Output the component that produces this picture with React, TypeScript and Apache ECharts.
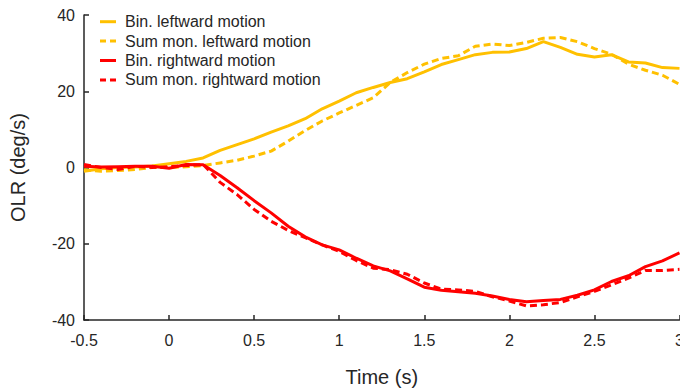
import React, { useEffect, useRef } from "react";
import * as echarts from "echarts";

const time = [-0.5, -0.4, -0.3, -0.2, -0.1, 0, 0.1, 0.2, 0.3, 0.4, 0.5, 0.6, 0.7, 0.8, 0.9, 1.0, 1.1, 1.2, 1.3, 1.4, 1.5, 1.6, 1.7, 1.8, 1.9, 2.0, 2.1, 2.2, 2.3, 2.4, 2.5, 2.6, 2.7, 2.8, 2.9, 3.0];

const binLeft = [-1, -0.3, 0, 0.1, 0.4, 1.0, 1.6, 2.5, 4.5, 6, 7.5, 9.3, 10.9, 12.8, 15.4, 17.4, 19.6, 21, 22.3, 23.3, 25.1, 27, 28.3, 29.6, 30.2, 30.3, 31.2, 33, 31.5, 29.7, 29, 29.6, 27.7, 27.4, 26.2, 26];
const sumLeft = [-0.6, -1, -0.8, -0.5, 0, 0, 0.2, 0.5, 1.2, 1.9, 3, 4.3, 6.9, 9.7, 12.2, 14.3, 16.3, 18.3, 22.3, 24.9, 27.1, 28.6, 29.3, 31.8, 32.4, 32, 32.8, 33.9, 34.1, 33, 31.2, 29.7, 27.1, 25.5, 24.2, 21.8];
const binRight = [0.3, 0.1, 0.2, 0.3, 0.3, -0.2, 0.8, 0.7, -2.1, -5.3, -8.7, -11.9, -15.4, -18.2, -20.3, -21.6, -23.8, -25.8, -27.1, -29.2, -31.4, -32.2, -32.6, -33, -33.7, -34.6, -35.2, -34.9, -34.6, -33.5, -32.1, -29.9, -28.4, -26, -24.5, -22.4];
const sumRight = [0.8, 0, -0.5, 0.3, 0, 0.2, 0.5, 0.8, -3.9, -7.1, -11, -14.1, -16.5, -18.4, -20.3, -22, -24.4, -26.4, -26.8, -28, -30.3, -31.9, -32.1, -32.5, -33.9, -35, -36.3, -36, -35.4, -33.9, -32.5, -30.8, -29, -27, -27, -26.7];

const seriesNames = ["Bin. leftward motion", "Sum mon. leftward motion", "Bin. rightward motion", "Sum mon. rightward motion"];
const xTicks = { min: -0.5, max: 3, interval: 0.5 };
const yTicks = { min: -40, max: 40, interval: 20 };

const YELLOW = "#FFC000";
const RED = "#FF0000";
const AXIS = "#262626";
const FONT = "Liberation Sans, Arial, sans-serif";

export default function App() {
  const ref = useRef<HTMLDivElement>(null);
  useEffect(() => {
    if (!ref.current) return;
    const chart = echarts.init(ref.current, undefined, { renderer: "svg" });
    const pair = (ys: number[]) => time.map((t, i) => [t, ys[i]]);
    const colors = [YELLOW, YELLOW, RED, RED];
    const dashed = [false, true, false, true];
    const mk = (i: number, ys: number[]) => ({
      name: seriesNames[i],
      type: "line",
      data: pair(ys),
      showSymbol: false,
      symbol: "none",
      lineStyle: { color: colors[i], width: 3, type: dashed[i] ? [7, 4] : "solid", cap: "butt" },
      itemStyle: { color: colors[i] },
    });
    const legendItems: any[] = [];
    seriesNames.forEach((n, i) => {
      const cy = 21.7 + i * 19.4;
      legendItems.push({
        type: "line",
        shape: { x1: 100, y1: cy, x2: 116, y2: cy },
        style: { stroke: colors[i], lineWidth: 3, lineDash: dashed[i] ? [6, 4] : null },
      });
      legendItems.push({
        type: "text",
        x: 125,
        y: cy,
        style: { text: n, fill: AXIS, font: `16px ${FONT}`, verticalAlign: "middle", align: "left" },
      });
    });
    chart.setOption({
      animation: false,
      backgroundColor: "#fff",
      textStyle: { fontFamily: FONT },
      grid: { left: 84, top: 15, width: 595.5, height: 305, containLabel: false, outerBoundsMode: "none" },
      graphic: legendItems,
      xAxis: {
        type: "value",
        min: xTicks.min,
        max: xTicks.max,
        interval: xTicks.interval,
        name: "Time (s)",
        nameLocation: "middle",
        nameGap: 47,
        nameTextStyle: { fontSize: 20, color: AXIS },
        axisLine: { show: true, onZero: false, lineStyle: { color: AXIS, width: 1.5 } },
        axisTick: { show: true, inside: true, length: 5, lineStyle: { color: AXIS, width: 1.5 } },
        axisLabel: { fontSize: 16, color: AXIS, margin: 12, hideOverlap: false },
        splitLine: { show: false },
      },
      yAxis: {
        type: "value",
        min: yTicks.min,
        max: yTicks.max,
        interval: yTicks.interval,
        name: "OLR (deg/s)",
        nameLocation: "middle",
        nameGap: 56,
        nameTextStyle: { fontSize: 20, color: AXIS },
        axisLine: { show: true, onZero: false, lineStyle: { color: AXIS, width: 1.5 } },
        axisTick: { show: true, inside: true, length: 5, lineStyle: { color: AXIS, width: 1.5 } },
        axisLabel: { fontSize: 16, color: AXIS, margin: 9 },
        splitLine: { show: false },
      },
      series: [mk(0, binLeft), mk(1, sumLeft), mk(2, binRight), mk(3, sumRight)],
    });
    return () => chart.dispose();
  }, []);
  return <div ref={ref} style={{ width: 680, height: 392, position: "absolute", left: 0, top: 0 }} />;
}
